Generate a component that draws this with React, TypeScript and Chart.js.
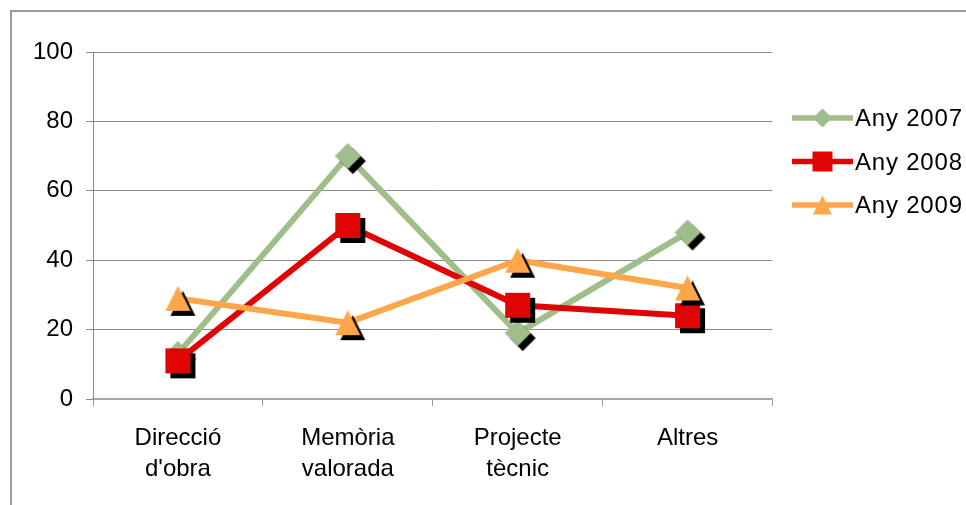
import React, { useEffect, useRef } from "react";
import { Chart, registerables } from "chart.js";

Chart.register(...registerables);

const categories: string[][] = [["Direcció", "d'obra"], ["Memòria", "valorada"], ["Projecte", "tècnic"], ["Altres"]];
const seriesNames = ["Any 2007", "Any 2008", "Any 2009"];
const any2007 = [13, 70, 19, 48];
const any2008 = [11, 50, 27, 24];
const any2009 = [29, 22, 40, 32];
const yTicks = [0, 20, 40, 60, 80, 100];

const COLORS = ["#9fbe8a", "#e00404", "#ffa64a"];
const SHAPES = ["diamond", "square", "triangle"];
const FONT = "'Liberation Sans', Arial, sans-serif";

function shapePath(ctx: CanvasRenderingContext2D, shape: string, cx: number, cy: number, size: number) {
  const h = size / 2;
  ctx.beginPath();
  if (shape === "diamond") {
    ctx.moveTo(cx, cy - h);
    ctx.lineTo(cx + h, cy);
    ctx.lineTo(cx, cy + h);
    ctx.lineTo(cx - h, cy);
  } else if (shape === "square") {
    ctx.rect(cx - h, cy - h, size, size);
  } else {
    ctx.moveTo(cx, cy - h);
    ctx.lineTo(cx + h, cy + h);
    ctx.lineTo(cx - h, cy + h);
  }
  ctx.closePath();
}

function makeMarker(shape: string, color: string, size: number, shadow: number) {
  const W = Math.ceil(size + 2 * (shadow + 2));
  const c = document.createElement("canvas");
  c.width = W;
  c.height = W;
  const ctx = c.getContext("2d")!;
  const m = W / 2;
  shapePath(ctx, shape, m + shadow, m + shadow, size);
  ctx.fillStyle = "#000";
  ctx.fill();
  shapePath(ctx, shape, m, m, size);
  ctx.fillStyle = color;
  ctx.fill();
  return c;
}

const framePlugin = {
  id: "frame",
  beforeDraw(chart: any) {
    const ctx = chart.ctx;
    ctx.save();
    ctx.fillStyle = "#ffffff";
    ctx.fillRect(0, 0, chart.width, chart.height);
    ctx.fillStyle = "#9a9a9a";
    ctx.fillRect(10, 10, chart.width - 10, 2);
    ctx.fillRect(10, 10, 2, chart.height - 10);
    ctx.restore();
  },
};

const legendPlugin = {
  id: "customLegend",
  afterDraw(chart: any) {
    const ctx = chart.ctx;
    ctx.save();
    const x0 = 792;
    const x1 = 853;
    const startY = 118;
    const step = 43.5;
    chart.data.datasets.forEach((ds: any, i: number) => {
      const y = startY + i * step;
      ctx.strokeStyle = ds.borderColor;
      ctx.lineWidth = 5.5;
      ctx.beginPath();
      ctx.moveTo(x0, y);
      ctx.lineTo(x1, y);
      ctx.stroke();
      const s = SHAPES[i] === "diamond" ? 19 : SHAPES[i] === "square" ? 20 : 19;
      shapePath(ctx, SHAPES[i], (x0 + x1) / 2, y, s);
      ctx.fillStyle = ds.borderColor;
      ctx.fill();
      ctx.fillStyle = "#000";
      ctx.font = `24px ${FONT}`;
      (ctx as any).letterSpacing = "0.8px";
      ctx.textBaseline = "middle";
      ctx.textAlign = "left";
      ctx.fillText(ds.label, 855, y + 1.5);
      (ctx as any).letterSpacing = "0px";
    });
    ctx.restore();
  },
};

export default function App() {
  const ref = useRef<HTMLCanvasElement | null>(null);
  useEffect(() => {
    if (!ref.current) return;
    const seriesData = [any2007, any2008, any2009];
    const sizes = [26, 25, 25];
    const chart = new Chart(ref.current, {
      type: "line",
      data: {
        labels: categories as any,
        datasets: seriesData.map((d, i) => ({
          label: seriesNames[i],
          data: d,
          borderColor: COLORS[i],
          backgroundColor: COLORS[i],
          borderWidth: 6,
          borderJoinStyle: "round" as const,
          tension: 0,
          fill: false,
          pointStyle: makeMarker(SHAPES[i], COLORS[i], sizes[i], 5) as any,
          pointRadius: 13,
          order: 2 - i,
        })),
      },
      options: {
        responsive: false,
        animation: false,
        events: [],
        layout: { padding: { top: 52, right: 193.5, bottom: 0, left: 0 } },
        plugins: { legend: { display: false }, tooltip: { enabled: false }, title: { display: false } },
        scales: {
          x: {
            type: "category",
            offset: true,
            grid: { display: true, drawOnChartArea: false, drawTicks: true, tickLength: 7, offset: true, color: "#9a9a9a", lineWidth: 1 },
            border: { display: true, color: "#a8a8a8", width: 2 },
            ticks: {
              autoSkip: false,
              maxRotation: 0,
              minRotation: 0,
              padding: 17,
              color: "#000",
              font: { family: FONT, size: 24, lineHeight: 1.3 },
            },
            afterFit: (s: any) => {
              s.height = 106;
            },
          },
          y: {
            min: 0,
            max: 100,
            afterBuildTicks: (s: any) => {
              s.ticks = yTicks.map((v) => ({ value: v }));
            },
            grid: { color: "#8c8c8c", lineWidth: 1, tickLength: 7, drawTicks: true },
            border: { display: true, color: "#8c8c8c", width: 1 },
            ticks: {
              padding: 13,
              color: "#000",
              font: { family: FONT, size: 24 },
            },
            afterFit: (s: any) => {
              s.width = 93;
            },
          },
        },
      },
      plugins: [framePlugin, legendPlugin],
    });
    return () => chart.destroy();
  }, []);
  return (
    <div style={{ position: "fixed", left: 0, top: 0, width: 966, height: 505, background: "#fff" }}>
      <canvas ref={ref} width={966} height={505} style={{ display: "block" }} />
    </div>
  );
}
